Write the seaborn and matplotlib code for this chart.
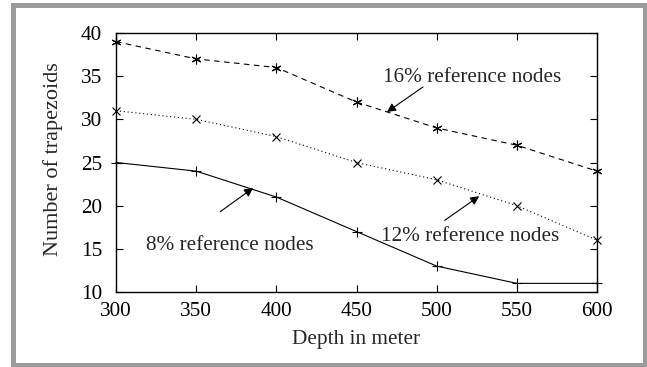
import matplotlib
matplotlib.use("Agg")
import matplotlib.pyplot as plt
import seaborn as sns
from matplotlib.patches import Rectangle

# data
depth = [300, 350, 400, 450, 500, 550, 600]
nodes_16 = [39, 37, 36, 32, 29, 27, 24]
nodes_12 = [31, 30, 28, 25, 23, 20, 16]
nodes_8 = [25, 24, 21, 17, 13, 11, 11]
x_ticks = [300, 350, 400, 450, 500, 550, 600]
y_ticks = [10, 15, 20, 25, 30, 35, 40]

sns.set_theme(style="ticks")
plt.rcParams["font.family"] = ["Liberation Serif", "DejaVu Serif"]

fs = 15.3

fig = plt.figure(figsize=(6.47, 3.67), dpi=100)
ax = fig.add_axes([116 / 647, 1 - 292 / 367, 481 / 647, 259 / 367])

# gray frame around the whole picture
fig.patches.append(Rectangle((12.5 / 647, 2.5 / 367), 632 / 647, 360 / 367,
                             transform=fig.transFigure, fill=False,
                             edgecolor="#9b9b9b", linewidth=3.6))

lw = 0.8
sns.lineplot(x=depth, y=nodes_16, ax=ax, color="black", linewidth=lw,
             linestyle=(0, (5, 4)), marker=(6, 2, 0), markersize=7,
             markeredgewidth=0.8, markeredgecolor="black", clip_on=False)
sns.lineplot(x=depth, y=nodes_12, ax=ax, color="black", linewidth=lw,
             linestyle=(0, (1, 2.5)), marker="x", markersize=6,
             markeredgewidth=0.8, markeredgecolor="black", clip_on=False)
sns.lineplot(x=depth, y=nodes_8, ax=ax, color="black", linewidth=lw,
             linestyle="-", marker="+", markersize=7,
             markeredgewidth=0.8, markeredgecolor="black", clip_on=False)

ax.set_xlim(300, 600)
ax.set_ylim(10, 40)
ax.set_xticks(x_ticks)
ax.set_yticks(y_ticks)
ax.tick_params(direction="in", length=5, width=0.8, labelsize=fs,
               top=True, right=True, colors="black")
ax.tick_params(axis="x", pad=7)
ax.tick_params(axis="y", pad=10)
for s in ax.spines.values():
    s.set_visible(True)
    s.set_linewidth(1.0)
    s.set_color("black")

ax.set_xlabel("Depth in meter", fontsize=fs, labelpad=7)
ax.set_ylabel("Number of trapezoids", fontsize=16)
ax.yaxis.set_label_coords(-0.110, 0.514)

arrow = dict(arrowstyle="-|>", color="black", lw=0.8, mutation_scale=13,
             shrinkA=0, shrinkB=0)
ax.annotate("", xy=(469, 30.85), xytext=(491.5, 33.75), arrowprops=arrow)
ax.text(522, 34.85, "16% reference nodes", fontsize=fs, ha="center", va="center")
ax.annotate("", xy=(526.5, 21.1), xytext=(505, 18.3), arrowprops=arrow)
ax.text(521, 16.45, "12% reference nodes", fontsize=fs, ha="center", va="center")
ax.annotate("", xy=(385.5, 22.05), xytext=(365, 19.3), arrowprops=arrow)
ax.text(371, 15.4, "8% reference nodes", fontsize=fs, ha="center", va="center")

fig.savefig("out.png", dpi=100, facecolor="white")
